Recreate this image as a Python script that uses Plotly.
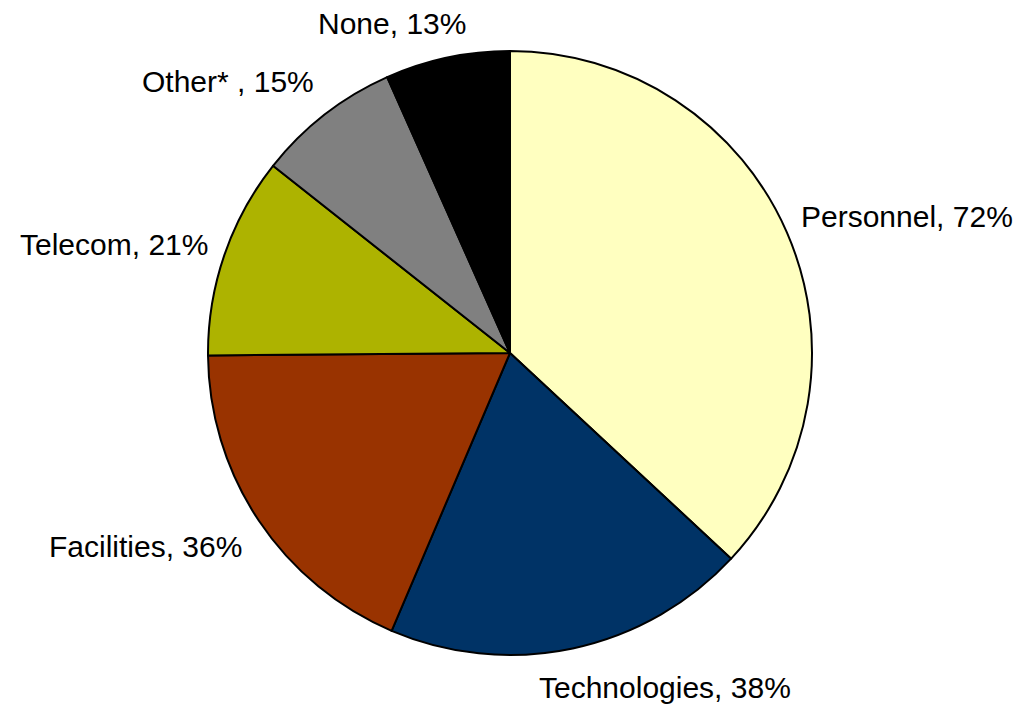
import plotly.graph_objects as go

# Share of respondents by category
categories = ["Personnel", "Technologies", "Facilities", "Telecom", "Other* ", "None"]
percents = [72, 38, 36, 21, 15, 13]
slice_colors = ["#FFFFC0", "#003366", "#993300", "#ADB300", "#808080", "#000000"]

W, H = 1022, 704
M = dict(l=208, r=210, t=51, b=49)
plot_w = W - M["l"] - M["r"]
plot_h = H - M["t"] - M["b"]

# Label anchor centres in pixels (x, y from top)
label_px = [(907, 216), (665, 687), (145, 546), (114, 245), (228, 81), (392, 24)]

fig = go.Figure(
    go.Pie(
        labels=categories,
        values=percents,
        sort=False,
        direction="clockwise",
        rotation=0,
        marker=dict(colors=slice_colors, line=dict(color="#000000", width=2)),
        textinfo="none",
        hoverinfo="label+value",
        showlegend=False,
    )
)

for name, val, (px, py) in zip(categories, percents, label_px):
    fig.add_annotation(
        text=f"{name}, {val}%",
        xref="paper", yref="paper",
        x=(px - M["l"]) / plot_w,
        y=(H - M["b"] - py) / plot_h,
        xanchor="center", yanchor="middle",
        showarrow=False,
        font=dict(family="Liberation Sans, Arial, sans-serif", size=30, color="#000000"),
    )

fig.update_layout(
    width=W,
    height=H,
    margin=M,
    paper_bgcolor="#FFFFFF",
    plot_bgcolor="#FFFFFF",
)

fig.write_html("out.html")
